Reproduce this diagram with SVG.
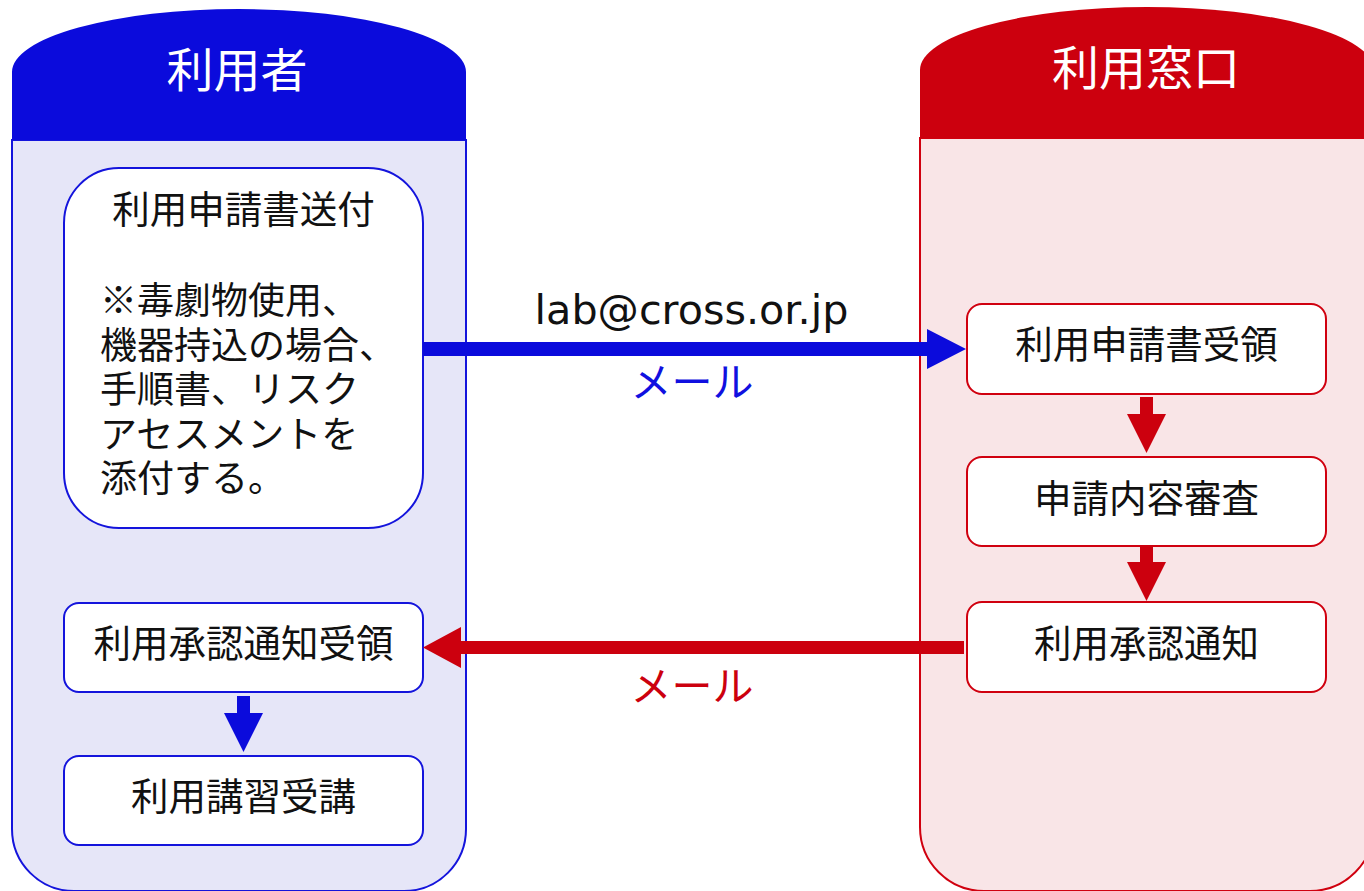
<svg xmlns="http://www.w3.org/2000/svg" width="1364" height="891" viewBox="0 0 1364 891">
<style>
.jp{font-family:"Noto Sans CJK JP","Noto Sans",sans-serif}
.hdr{font-size:47px;fill:#ffffff;text-anchor:middle}
.nt{font-size:37.5px;fill:#111111;text-anchor:middle}
.nl{font-size:37px;fill:#111111}
.bnode{fill:#ffffff;stroke:#1414dc;stroke-width:2}
.rnode{fill:#ffffff;stroke:#d0000f;stroke-width:2}
.blue{fill:#0b0bdc}
.red{fill:#cc000e}
</style>
<rect width="1364" height="891" fill="#ffffff"/>
<g id="lane-user">
<path d="M12,140 L12,829 A62,62 0 0 0 74,891 L404,891 A62,62 0 0 0 466,829 L466,140 Z" fill="#e6e6f8" stroke="#1414dc" stroke-width="2"/>
<path d="M12,140 L12,72 A227,63 0 0 1 466,72 L466,140 Z" class="blue"/>
<text class="jp hdr" x="237" y="87">利用者</text>
</g>
<g id="lane-window">
<path d="M920,138 L920,827 A64,64 0 0 0 984,891 L1310,891 A64,64 0 0 0 1374,827 L1374,138 Z" fill="#f9e5e7" stroke="#d0000f" stroke-width="2"/>
<path d="M920,138 L920,70 A227,63 0 0 1 1374,70 L1374,138 Z" class="red"/>
<text class="jp hdr" x="1146" y="84.5">利用窓口</text>
</g>
<g id="node-send">
<rect class="bnode" x="64" y="168" width="359" height="360" rx="55"/>
<text class="jp nt" x="243.5" y="223">利用申請書送付</text>
<text class="jp nl" x="100" y="314">※毒劇物使用、<tspan x="100" dy="44.5">機器持込の場合、</tspan><tspan x="100" dy="44.5">手順書、リスク</tspan><tspan x="100" dy="44.5">アセスメントを</tspan><tspan x="100" dy="44.5">添付する。</tspan></text>
</g>
<g id="node-receive-approval">
<rect class="bnode" x="64" y="603" width="359" height="89" rx="15"/>
<text class="jp nt" x="243.5" y="657">利用承認通知受領</text>
</g>
<g id="node-training">
<rect class="bnode" x="64" y="756" width="359" height="89" rx="15"/>
<text class="jp nt" x="243.5" y="810">利用講習受講</text>
</g>
<g id="node-receive-app">
<rect class="rnode" x="967" y="304" width="359" height="90" rx="15"/>
<text class="jp nt" x="1146.5" y="357.5">利用申請書受領</text>
</g>
<g id="node-review">
<rect class="rnode" x="967" y="457" width="359" height="89" rx="15"/>
<text class="jp nt" x="1146.5" y="511.5">申請内容審査</text>
</g>
<g id="node-notify">
<rect class="rnode" x="967" y="602" width="359" height="90" rx="15"/>
<text class="jp nt" x="1146.5" y="656.5">利用承認通知</text>
</g>
<g id="connectors">
<path class="blue" d="M423,342 L927,342 L927,329 L966,349 L927,369 L927,356 L423,356 Z"/>
<text x="691.5" y="323.5" font-family="DejaVu Sans, Verdana, sans-serif" font-size="41.3" fill="#111111" text-anchor="middle">lab@cross.or.jp</text>
<text class="jp" x="692" y="397" font-size="41" fill="#1010e0" text-anchor="middle">メール</text>
<path class="red" d="M964,641 L461,641 L461,627 L423,647.5 L461,668 L461,654 L964,654 Z"/>
<text class="jp" x="692" y="701" font-size="41" fill="#cc000e" text-anchor="middle">メール</text>
<path class="red" d="M1140,397 L1153,397 L1153,414 L1166,414 L1146.5,453 L1127,414 L1140,414 Z"/>
<path class="red" d="M1140,545 L1153,545 L1153,562 L1166,562 L1146.5,601 L1127,562 L1140,562 Z"/>
<path class="blue" d="M237,696 L250,696 L250,713 L263,713 L243.5,752 L224,713 L237,713 Z"/>
</g>
</svg>
